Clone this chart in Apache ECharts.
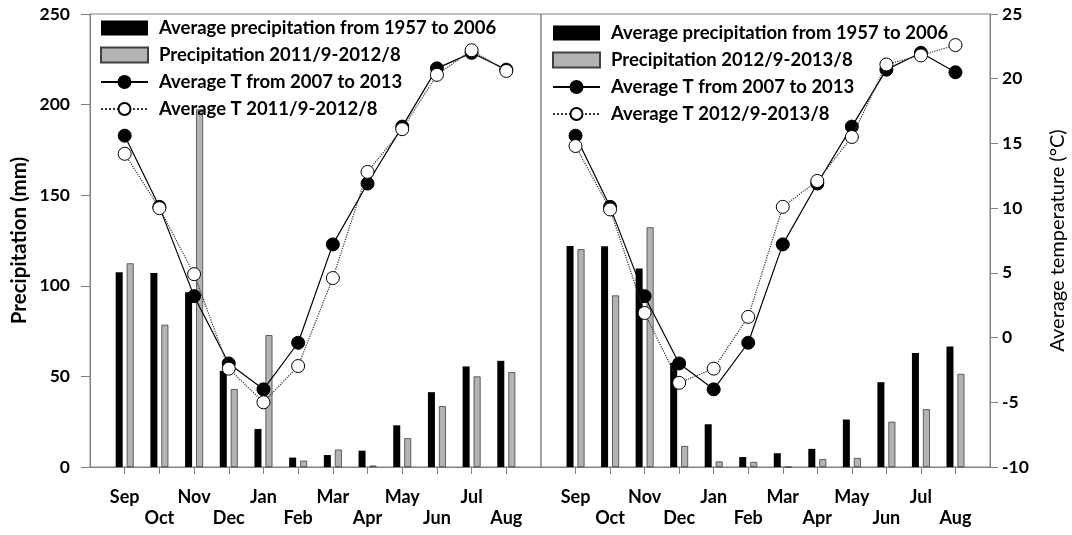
<!DOCTYPE html>
<html><head><meta charset="utf-8">
<script src="https://cdn.jsdelivr.net/npm/echarts@6/dist/echarts.min.js"></script>
<style>html,body{margin:0;padding:0;background:#fff}#c{width:1072px;height:535px}</style>
</head><body><div id="c"></div>
<script>
const months = ['Sep','Oct','Nov','Dec','Jan','Feb','Mar','Apr','May','Jun','Jul','Aug'];
const precipTicks = [0, 50, 100, 150, 200, 250];
const tempTicks = [-10, -5, 0, 5, 10, 15, 20, 25];

// Left panel (2011/9-2012/8)
const precipAvgL = [107.5, 107, 96.5, 53, 21, 5.2, 6.6, 9, 23, 41.3, 55.5, 58.6];
const precip1112 = [112.4, 78.5, 197.4, 43, 72.8, 3.5, 9.6, 0.8, 15.9, 33.6, 50, 52.4];
const tempAvgL = [15.6, 10.1, 3.2, -2.0, -4.0, -0.4, 7.2, 11.9, 16.3, 20.8, 22.0, 20.7];
const temp1112 = [14.2, 10.0, 4.9, -2.4, -5.0, -2.2, 4.6, 12.8, 16.1, 20.3, 22.2, 20.6];

// Right panel (2012/9-2013/8)
const precipAvgR = [122, 121.8, 109.5, 57.5, 23.6, 5.5, 7.6, 10, 26.2, 46.8, 62.9, 66.5];
const precip1213 = [120.2, 94.7, 132.3, 11.6, 3.1, 2.8, 0, 4.4, 5, 25, 31.9, 51.4];
const tempAvgR = [15.6, 10.1, 3.2, -2.0, -4.0, -0.4, 7.2, 11.9, 16.3, 20.7, 22.0, 20.5];
const temp1213 = [14.8, 9.9, 1.9, -3.5, -2.4, 1.6, 10.1, 12.1, 15.5, 21.1, 21.8, 22.6];

const nameAvgP = 'Average precipitation from 1957 to 2006';
const nameP1 = 'Precipitation 2011/9-2012/8';
const nameP2 = 'Precipitation 2012/9-2013/8';
const nameAvgT = 'Average T from 2007 to 2013';
const nameT1 = 'Average T 2011/9-2012/8';
const nameT2 = 'Average T 2012/9-2013/8';

const pad = arr => [null, ...arr, null];
const xCats = ['', ...months, ''];
const FONT = 'Lato';
const AXIS_COLOR = '#808080';

function xAxis(gi) {
  return {
    type: 'category', gridIndex: gi, data: xCats, boundaryGap: false,
    axisLine: { show: true, lineStyle: { color: AXIS_COLOR, width: 1 } },
    axisTick: { show: true, length: 7, inside: false, interval: (i) => i > 0 && i < xCats.length - 1, lineStyle: { color: AXIS_COLOR } },
    axisLabel: {
      interval: 0, margin: 20, color: '#000', fontFamily: FONT, fontWeight: 'bold', fontSize: 18, lineHeight: 21,
      formatter: (v, i) => (i % 2 === 0 ? '\n' + v : v)
    },
    splitLine: { show: false }
  };
}

function barSeries(name, data, xi, yi, color, border) {
  return {
    type: 'bar', name, data: pad(data), xAxisIndex: xi, yAxisIndex: yi,
    barWidth: 7, barGap: '57%',
    itemStyle: { color, borderColor: border, borderWidth: border === color ? 0 : 0.8 },
    z: 2
  };
}
function lineSeries(name, data, xi, yi, filled) {
  return {
    type: 'line', name, data: pad(data), xAxisIndex: xi, yAxisIndex: yi,
    symbol: 'circle', symbolSize: 13, showSymbol: true,
    lineStyle: { color: filled ? '#000' : '#333', width: 1.2, type: filled ? 'solid' : 'dotted' },
    itemStyle: filled ? { color: '#000', borderColor: '#000', borderWidth: 1 } : { color: '#fff', borderColor: '#000', borderWidth: 1 },
    z: filled ? 3 : 4
  };
}

const legendText = { fontFamily: FONT, fontWeight: 'bold', fontSize: 18.5, color: '#000', lineHeight: 22, padding: [0, 0, 0, 6] };
function legend(left, top, pName, tName) {
  return {
    left, top, orient: 'vertical', padding: 0, itemWidth: 47, itemHeight: 15, itemGap: 5, selectedMode: false,
    textStyle: legendText,
    data: [{ name: nameAvgP, icon: 'rect' }, { name: pName, icon: 'rect' }, { name: nameAvgT }, { name: tName }]
  };
}

const option = {
  animation: false,
  backgroundColor: '#fff',
  grid: [
    { left: 90, top: 14, width: 451, height: 453, show: true, borderColor: AXIS_COLOR, borderWidth: 1, backgroundColor: 'transparent' },
    { left: 541, top: 14, width: 449, height: 453, show: true, borderColor: AXIS_COLOR, borderWidth: 1, backgroundColor: 'transparent' }
  ],
  legend: [legend(100, 17, nameP1, nameT1), legend(552, 22, nameP2, nameT2)],
  xAxis: [xAxis(0), xAxis(1)],
  yAxis: [
    { type: 'value', gridIndex: 0, position: 'left', min: precipTicks[0], max: precipTicks[precipTicks.length - 1], interval: 50,
      name: 'Precipitation (mm)', nameLocation: 'middle', nameRotate: 90, nameGap: 60,
      nameTextStyle: { fontFamily: FONT, fontWeight: 'bold', fontSize: 20.5, color: '#000' },
      axisLine: { show: true, lineStyle: { color: AXIS_COLOR } },
      axisTick: { show: true, length: 9, lineStyle: { color: AXIS_COLOR } },
      axisLabel: { margin: 20, color: '#000', fontFamily: FONT, fontWeight: 'bold', fontSize: 17.5 },
      splitLine: { show: false } },
    { type: 'value', gridIndex: 0, min: tempTicks[0], max: tempTicks[tempTicks.length - 1], show: false, splitLine: { show: false } },
    { type: 'value', gridIndex: 1, min: precipTicks[0], max: precipTicks[precipTicks.length - 1], show: false, splitLine: { show: false } },
    { type: 'value', gridIndex: 1, position: 'right', min: tempTicks[0], max: tempTicks[tempTicks.length - 1], interval: 5,
      name: 'Average temperature (°C)', nameLocation: 'middle', nameRotate: 90, nameGap: 58,
      nameTextStyle: { fontFamily: FONT, fontWeight: 'normal', fontSize: 20, color: '#000' },
      axisLine: { show: true, lineStyle: { color: AXIS_COLOR } },
      axisTick: { show: true, length: 8, lineStyle: { color: AXIS_COLOR } },
      axisLabel: { margin: 12, color: '#000', fontFamily: FONT, fontWeight: 'bold', fontSize: 17.5 },
      splitLine: { show: false } }
  ],
  series: [
    barSeries(nameAvgP, precipAvgL, 0, 0, '#000', '#000'),
    barSeries(nameP1, precip1112, 0, 0, '#b3b3b3', '#404040'),
    lineSeries(nameAvgT, tempAvgL, 0, 1, true),
    lineSeries(nameT1, temp1112, 0, 1, false),
    barSeries(nameAvgP, precipAvgR, 1, 2, '#000', '#000'),
    barSeries(nameP2, precip1213, 1, 2, '#b3b3b3', '#404040'),
    lineSeries(nameAvgT, tempAvgR, 1, 3, true),
    lineSeries(nameT2, temp1213, 1, 3, false)
  ]
};
echarts.init(document.getElementById('c')).setOption(option);
</script>
</body></html>
